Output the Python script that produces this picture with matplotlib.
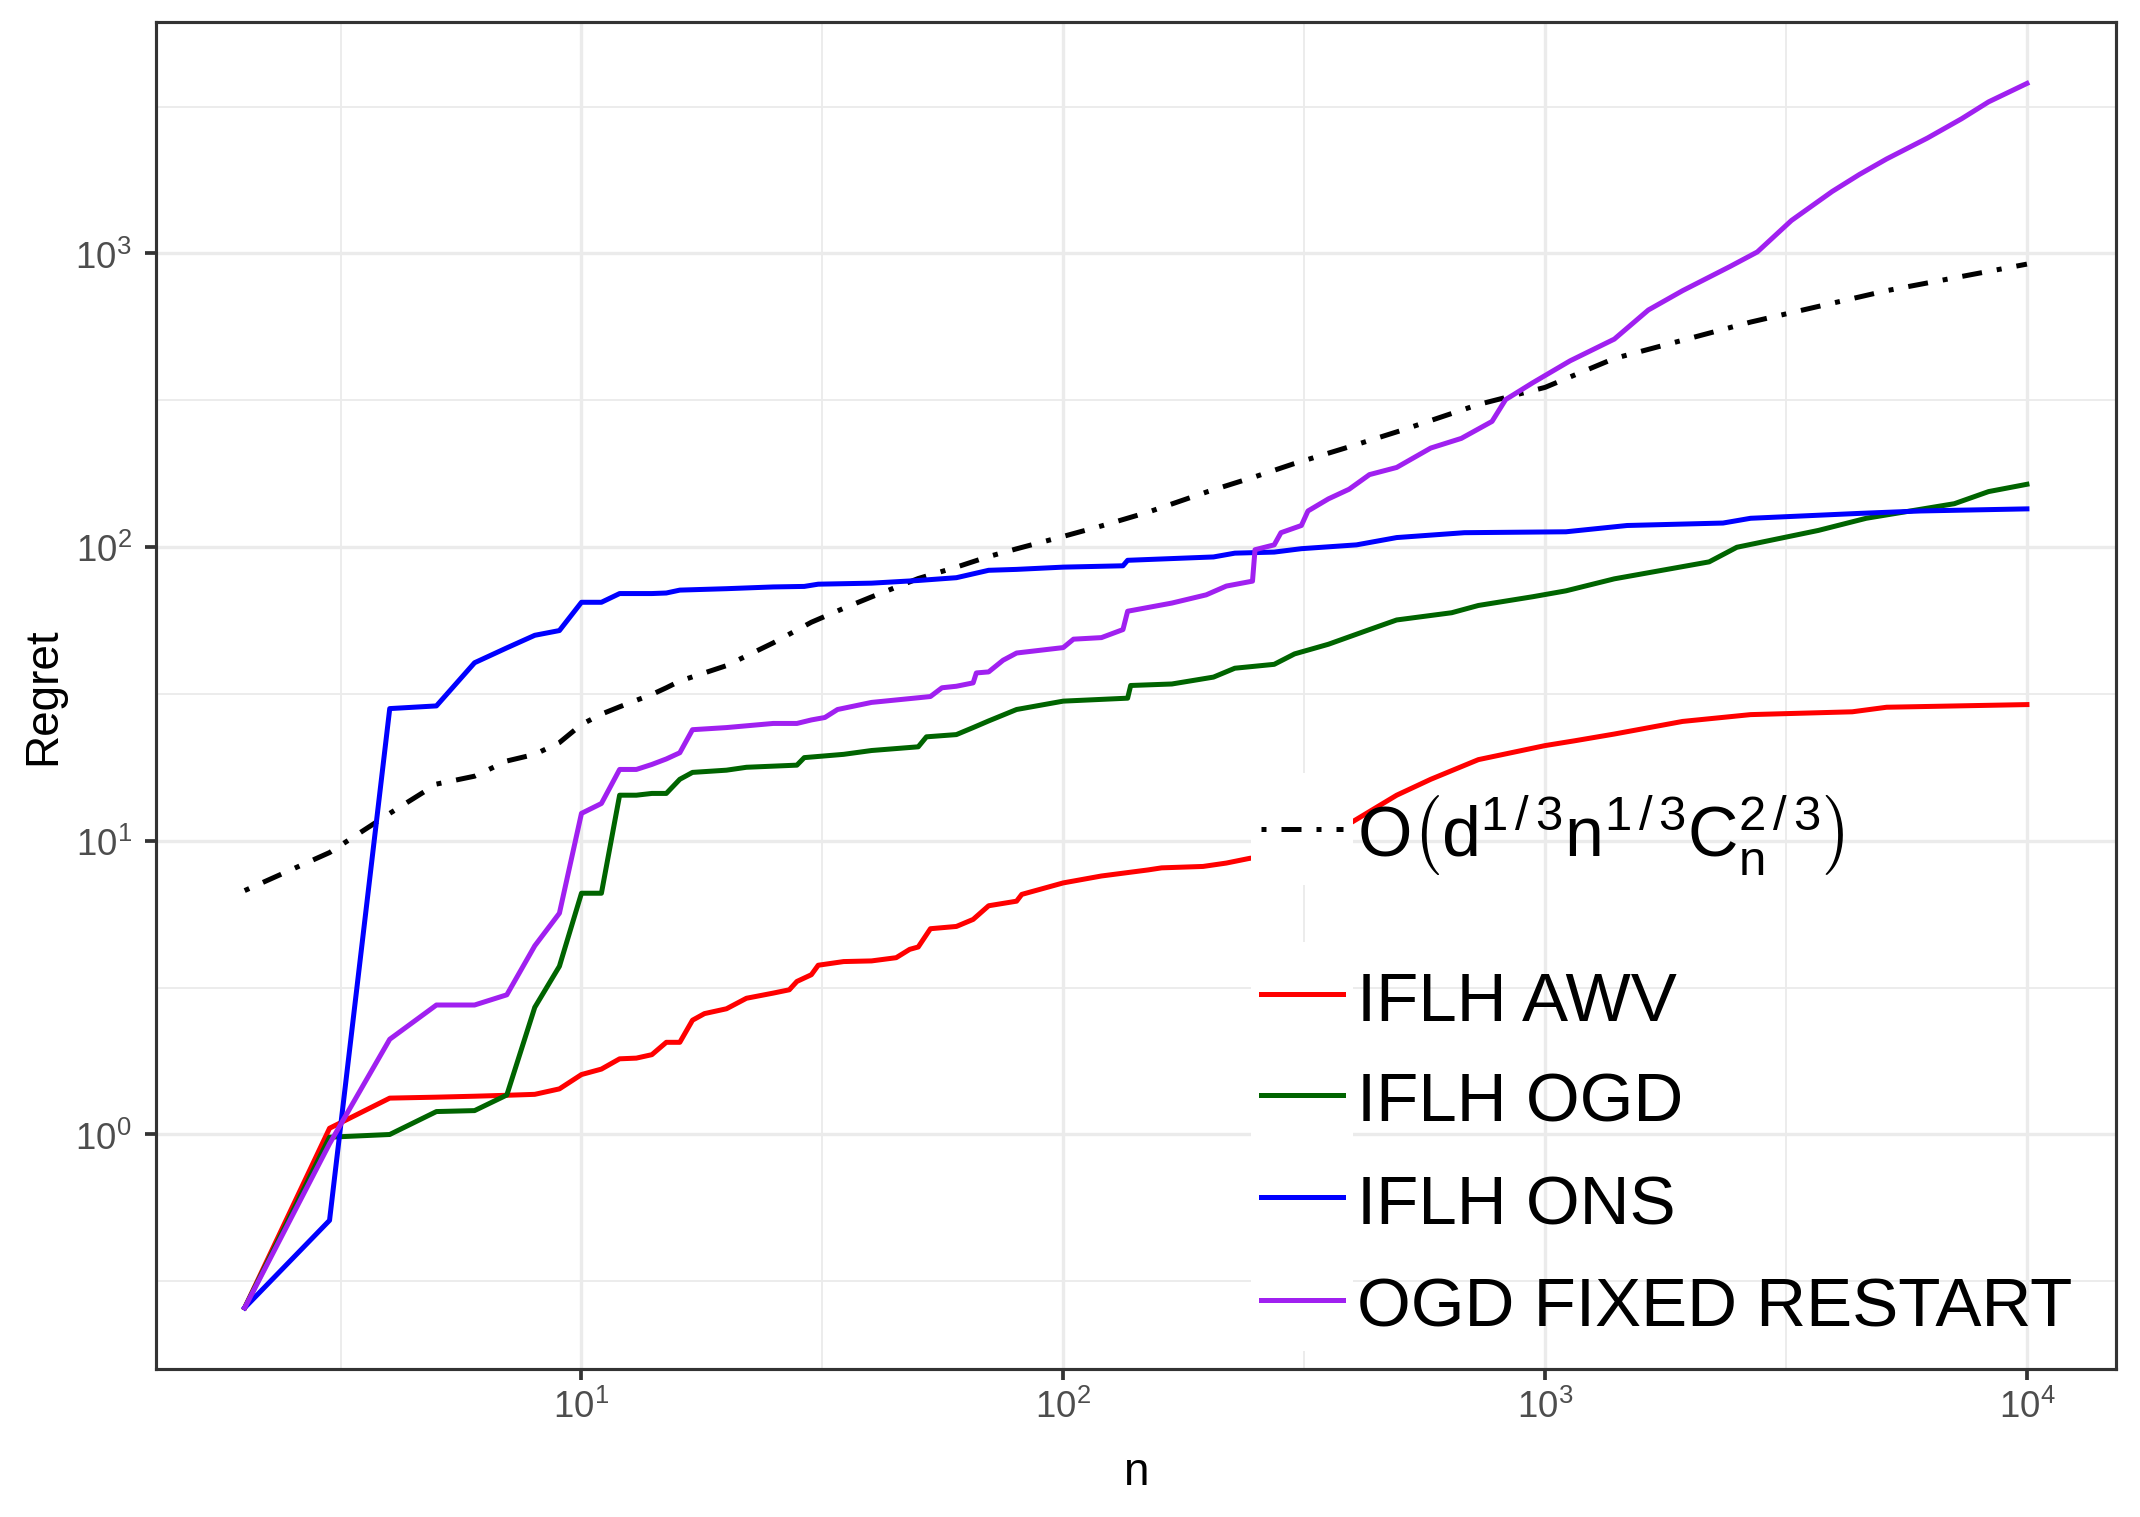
import numpy as np
import matplotlib
matplotlib.use("Agg")
import matplotlib.pyplot as plt
from matplotlib.patches import Rectangle
from matplotlib.lines import Line2D
from matplotlib.ticker import FixedLocator, FuncFormatter, NullFormatter

plt.rcParams['font.family'] = ['Liberation Sans', 'DejaVu Sans']
plt.rcParams['mathtext.fontset'] = 'custom'
plt.rcParams['mathtext.rm'] = 'Liberation Sans'
plt.rcParams['mathtext.it'] = 'Liberation Sans:italic'
plt.rcParams['mathtext.bf'] = 'Liberation Sans:bold'

# ---- data (n, regret) ----
awv_n = [2, 3, 4, 5, 6, 7, 8, 9, 10, 11, 12, 13, 14, 15, 16, 17, 18, 20, 22, 25,
         27, 28, 30, 31, 35, 40, 45, 48, 50, 53, 60, 65, 70, 80, 82, 100, 120, 150,
         160, 195, 218, 244, 250, 320, 398, 492, 579, 727, 1000, 1150, 1392, 1929,
         2670, 4340, 5114, 10000]
awv_v = [0.257, 1.05, 1.33, 1.34, 1.35, 1.36, 1.37, 1.43, 1.60, 1.67, 1.81, 1.82,
         1.87, 2.06, 2.06, 2.45, 2.58, 2.68, 2.91, 3.03, 3.11, 3.32, 3.50, 3.77,
         3.88, 3.90, 4.00, 4.27, 4.35, 5.02, 5.11, 5.40, 6.01, 6.23, 6.57, 7.19,
         7.59, 7.96, 8.09, 8.18, 8.40, 8.72, 8.75, 10.0, 11.6, 14.3, 16.2, 18.9,
         21.1, 21.9, 23.1, 25.5, 26.9, 27.5, 28.5, 29.1]

ogd_n = [2, 3, 4, 5, 6, 7, 8, 9, 10, 11, 12, 13, 14, 15, 16, 17, 20, 22, 28, 29,
         35, 40, 50, 52, 60, 65, 70, 80, 100, 136, 138, 168, 205, 227, 274, 302,
         355, 432, 492, 640, 727, 943, 1105, 1392, 2190, 2500, 3690, 4640, 7070,
         8327, 10000]
ogd_v = [0.257, 0.979, 1.0, 1.197, 1.206, 1.363, 2.71, 3.74, 6.63, 6.63, 14.3,
         14.3, 14.5, 14.5, 16.2, 17.1, 17.4, 17.8, 18.1, 19.2, 19.7, 20.3, 20.9,
         22.6, 23.0, 24.3, 25.6, 28.0, 29.9, 30.6, 33.8, 34.2, 36.1, 38.7, 39.9,
         43.3, 46.7, 52.4, 56.5, 59.8, 63.3, 67.8, 71.0, 78.0, 89.1, 99.9, 114.0,
         125.4, 140.6, 154.6, 163.7]

ons_n = [2, 3, 4, 5, 6, 7, 8, 9, 10, 11, 12, 13, 14, 15, 16, 20, 25, 29, 31, 40,
         50, 60, 70, 80, 100, 133, 136, 205, 227, 274, 312, 406, 492, 680, 1105,
         1480, 2340, 2670, 4491, 6017, 10000]
ons_v = [0.257, 0.51, 28.2, 28.8, 40.4, 45.4, 50.1, 52.0, 64.9, 64.9, 69.5, 69.5,
         69.5, 69.8, 71.4, 72.2, 73.2, 73.5, 74.8, 75.4, 77.0, 78.7, 83.4, 84.0,
         85.5, 86.4, 90.2, 92.6, 95.4, 96.2, 98.8, 101.8, 107.8, 112.0, 112.8,
         118.5, 120.8, 125.4, 130.3, 132.8, 135.0]

restart_n = [2, 3, 4, 5, 6, 7, 8, 9, 10, 11, 12, 13, 14, 15, 16, 17, 20, 25, 28,
             30, 32, 34, 40, 50, 53, 56, 60, 65, 66, 70, 75, 80, 100, 105, 120,
             133, 136, 168, 198, 218, 247, 250, 274, 283, 312, 322, 355, 392, 432,
             492, 579, 670, 776, 828, 943, 1127, 1392, 1638, 1929, 2420, 2757,
             3245, 3943, 4491, 5114, 6217, 7314, 8327, 10000]
restart_v = [0.257, 0.93, 2.11, 2.76, 2.76, 2.99, 4.39, 5.67, 12.4, 13.4, 17.5,
             17.5, 18.2, 19.0, 19.95, 23.9, 24.3, 25.1, 25.1, 25.8, 26.3, 28.0,
             29.6, 30.7, 31.0, 33.2, 33.6, 34.5, 37.3, 37.6, 41.2, 43.6, 45.5, 48.6,
             49.2, 52.4, 60.5, 64.5, 68.8, 73.7, 76.6, 98.0, 101.8, 112.0, 118.5,
             132.8, 146.0, 157.5, 176.6, 186.8, 217.5, 234.6, 268.0, 318.0, 363.0,
             431.0, 511.0, 642.0, 747.0, 903.0, 1012.0, 1295.0, 1626.0, 1858.0,
             2098.0, 2472.0, 2874.0, 3283.0, 3793.0]

bound_n = [2, 3, 4, 5, 6, 7, 8, 9, 10, 11, 12, 13, 14, 15, 16, 20, 25, 30, 35, 40,
           50, 60, 70, 80, 100, 120, 150, 200, 250, 300, 400, 500, 727, 1000, 1392,
           2670, 5114, 10000]
bound_v = [6.77, 9.12, 12.4, 15.6, 16.6, 18.7, 19.7, 21.6, 24.9, 27.0, 28.6, 30.1,
           31.5, 33.2, 35.0, 39.5, 47.2, 55.5, 61.9, 67.7, 78.2, 85.5, 92.9, 98.7,
           108.8, 118.1, 131.6, 154.8, 173.7, 192.0, 221.8, 248.9, 306.0, 350.0,
           439.0, 584.0, 747.0, 920.0]

labels = ['IFLH AWV', 'IFLH OGD', 'IFLH ONS', 'OGD FIXED RESTART']
colors = ['#FF0000', '#006400', '#0000FF', '#A020F0']
bound_label = (r'$\mathregular{O}\left(\mathregular{d}^{1\,/\,3}\mathregular{n}^{1\,/\,3}'
               r'\mathregular{C}_{\mathregular{n}}^{2\,/\,3}\right)$')

series = [(awv_n, awv_v), (ogd_n, ogd_v), (ons_n, ons_v), (restart_n, restart_v)]


def expanded_limits(values, mult=0.05):
    """ggplot-style 5% expansion on a log scale."""
    lo, hi = np.log10(min(values)), np.log10(max(values))
    pad = (hi - lo) * mult
    return 10 ** (lo - pad), 10 ** (hi + pad)


def power_label(v, pos):
    return r'$\mathregular{10^{%d}}$' % round(np.log10(v))


fig = plt.figure(figsize=(2140 / 300, 1518 / 300), dpi=300)
ax = fig.add_axes([0.0727, 0.0975, 0.9161, 0.8872])
ax.set_xscale('log')
ax.set_yscale('log')

lw = 1.2
ax.plot(bound_n, bound_v, color='black', lw=lw, linestyle=(0, (1, 3, 4, 3)),
        dash_capstyle='butt', zorder=2)
for (n, v), c in zip(series, colors):
    ax.plot(n, v, color=c, lw=lw, solid_joinstyle='round', zorder=2)

all_n = sum([s[0] for s in series], []) + bound_n
all_v = sum([s[1] for s in series], []) + bound_v
ax.set_xlim(*expanded_limits(all_n))
ax.set_ylim(*expanded_limits(all_v))

# axes, ticks and grid in the style of theme_bw
ax.xaxis.set_major_locator(FixedLocator([1e1, 1e2, 1e3, 1e4]))
ax.xaxis.set_minor_locator(FixedLocator(10 ** np.array([0.5, 1.5, 2.5, 3.5])))
ax.yaxis.set_major_locator(FixedLocator([1e0, 1e1, 1e2, 1e3]))
ax.yaxis.set_minor_locator(FixedLocator(10 ** np.array([-0.5, 0.5, 1.5, 2.5, 3.5])))
ax.xaxis.set_major_formatter(FuncFormatter(power_label))
ax.yaxis.set_major_formatter(FuncFormatter(power_label))
ax.xaxis.set_minor_formatter(NullFormatter())
ax.yaxis.set_minor_formatter(NullFormatter())

ax.set_axisbelow(True)
ax.grid(which='major', color='#EBEBEB', lw=0.8)
ax.grid(which='minor', color='#EBEBEB', lw=0.45)
ax.tick_params(which='major', length=2.75, width=0.9, color='#333333',
               labelcolor='#4D4D4D', labelsize=8.8)
ax.tick_params(axis='x', which='major', pad=2.0)
ax.tick_params(axis='y', which='major', pad=3.0)
ax.tick_params(which='minor', length=0)
for sp in ax.spines.values():
    sp.set_color('#333333')
    sp.set_linewidth(0.75)

ax.set_xlabel('n', fontsize=11, labelpad=6.0)
ax.set_ylabel('Regret', fontsize=11, labelpad=2.4)

# legend drawn inside the panel: white key boxes, transparent background
ax.add_patch(Rectangle((0.5588, 0.3594), 0.052, 0.0835, transform=ax.transAxes,
                       facecolor='white', edgecolor='none', zorder=3))
ax.add_patch(Rectangle((0.5588, 0.0134), 0.052, 0.3037, transform=ax.transAxes,
                       facecolor='white', edgecolor='none', zorder=3))

key_x = [0.5639, 0.6057]
text_x = 0.6128
ax.add_line(Line2D(key_x, [0.4010, 0.4010], transform=ax.transAxes, color='black',
                   lw=lw, linestyle=(0, (1, 3, 4, 3)), zorder=4))
ax.text(text_x, 0.3809, bound_label, transform=ax.transAxes, fontsize=16.8,
        ha='left', va='baseline', zorder=5)

key_y = [0.2785, 0.2035, 0.1277, 0.0516]
base_y = [0.2592, 0.1842, 0.1084, 0.0323]
for lab, c, ky, by in zip(labels, colors, key_y, base_y):
    ax.add_line(Line2D(key_x, [ky, ky], transform=ax.transAxes, color=c, lw=lw,
                       zorder=4))
    ax.text(text_x, by, lab, transform=ax.transAxes, fontsize=16.6, ha='left',
            va='baseline', zorder=5)

fig.savefig('out.png', dpi=300)
